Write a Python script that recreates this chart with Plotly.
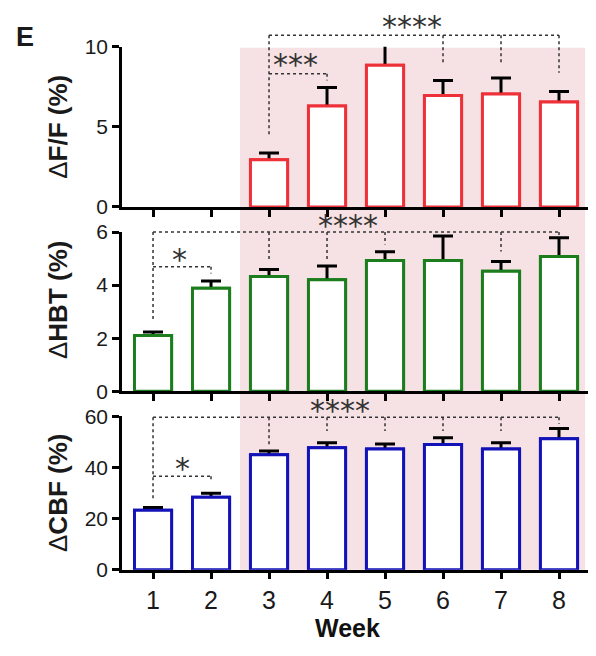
import plotly.graph_objects as go

# ---------------- data ----------------
weeks = [1, 2, 3, 4, 5, 6, 7, 8]
week_labels = ["1", "2", "3", "4", "5", "6", "7", "8"]

dff_mean = [None, None, 2.95, 6.3, 8.85, 6.95, 7.05, 6.55]
dff_err = [None, None, 0.42, 1.15, 1.5, 0.95, 1.0, 0.65]

hbt_mean = [2.1, 3.88, 4.32, 4.2, 4.93, 4.93, 4.52, 5.08]
hbt_err = [0.13, 0.27, 0.27, 0.52, 0.33, 0.92, 0.37, 0.7]

cbf_mean = [23.3, 28.3, 45.0, 47.7, 47.2, 49.0, 47.2, 51.2]
cbf_err = [1.0, 1.6, 1.4, 2.0, 2.0, 2.6, 2.5, 4.0]

y_titles = ["ΔF/F (%)", "ΔHBT (%)", "ΔCBF (%)"]
y_ticks = [[0, 5, 10], [0, 2, 4, 6], [0, 20, 40, 60]]
y_ranges = [[0, 10], [0, 6], [0, 60]]

# significance brackets: (x_start, x_end, level, {x: drop_end})
brackets = [
    [(3, 8, 10.72, {3: 4.52, 6: 8.9, 7: 8.9, 8: 8.37}),
     (3, 4, 8.31, {4: 7.9})],
    [(1, 8, 6.0, {1: 2.65, 3: 4.95, 4: 4.98, 5: 5.53, 7: 5.27, 8: 5.85}),
     (1, 2, 4.69, {2: 4.44})],
    [(1, 8, 59.6, {1: 27.2, 3: 49, 4: 54.3, 5: 54.3, 6: 54.3, 7: 54.3, 8: 57}),
     (1, 2, 36.6, {2: 34.3})],
]
# star labels: (text, x, y)
stars = [
    [("****", 5.47, 11.26), ("***", 3.45, 8.86)],
    [("****", 4.36, 6.25), ("*", 1.45, 4.95)],
    [("****", 4.22, 62.3), ("*", 1.5, 39.6)],
]

# ---------------- style ----------------
W, H = 596, 656
colors = ["#ee3138", "#1b7d1b", "#1212b8"]
pink = "#f6e1e4"
font = "Liberation Sans, Arial, sans-serif"
star_font = "DejaVu Sans, sans-serif"
x_left, x_right = 122, 588
panel_px = [(36, 202), (228, 393), (419, 578)]  # top, bottom in pixels
x_range = [0.465, 8.5]


def px_x(x):
    return x / W


def px_y(y):
    return 1 - y / H


x_dom = [px_x(x_left), px_x(x_right)]
y_doms = [[px_y(b), px_y(t)] for (t, b) in panel_px]

fig = go.Figure()
means = [dff_mean, hbt_mean, cbf_mean]
errs = [dff_err, hbt_err, cbf_err]

for i in range(3):
    ax = "" if i == 0 else str(i + 1)
    common = dict(
        x=weeks, y=means[i], width=0.64,
        marker=dict(color="white", line=dict(color=colors[i], width=3)),
        xaxis="x" + ax, yaxis="y" + ax, showlegend=False, cliponaxis=False,
        hoverinfo="skip",
    )
    fig.add_trace(go.Bar(
        error_y=dict(type="data", array=errs[i], visible=True, color="black",
                     thickness=3, width=10),
        **common))
    fig.add_trace(go.Bar(**common))


def to_paper(i, v):
    d0, d1 = y_doms[i]
    r0, r1 = y_ranges[i]
    return d0 + (v - r0) / (r1 - r0) * (d1 - d0)


shapes = []
# pink background spanning all panels
shapes.append(dict(type="rect", xref="x3", yref="paper", x0=2.5, x1=8.45,
                   y0=y_doms[2][0], y1=px_y(37), fillcolor=pink,
                   line=dict(width=0), layer="below"))

annotations = []
for i in range(3):
    ax = "" if i == 0 else str(i + 1)
    for (xs, xe, lvl, drops) in brackets[i]:
        shapes.append(dict(type="line", xref="x" + ax, yref="paper",
                           x0=xs, x1=xe, y0=to_paper(i, lvl), y1=to_paper(i, lvl),
                           line=dict(color="#333", width=1.5, dash="dot")))
        for xd, yd in drops.items():
            shapes.append(dict(type="line", xref="x" + ax, yref="paper",
                               x0=xd, x1=xd, y0=to_paper(i, lvl), y1=to_paper(i, yd),
                               line=dict(color="#333", width=1.5, dash="dot")))
    for (txt, sx, sy) in stars[i]:
        annotations.append(dict(text=txt, x=sx, y=to_paper(i, sy), xref="x" + ax, yref="paper",
                                showarrow=False, xanchor="center", yanchor="middle",
                                yshift=0,
                                font=dict(family=star_font, size=30, color="#333")))
    # y title
    t, b = panel_px[i]
    cy = (t + b) / 2 if i != 1 else (t + b) / 2 - 12
    annotations.append(dict(text=y_titles[i].replace("Δ", "<span style='font-weight:normal'>Δ</span><b>") + "</b>",
                            x=px_x(58), y=px_y(cy), xref="paper", yref="paper",
                            showarrow=False, textangle=-90, xanchor="center", yanchor="middle",
                            font=dict(family=font, size=26, color="#1a1a1a")))

annotations.append(dict(text="<b>E</b>", x=px_x(14), y=px_y(26), xref="paper", yref="paper",
                        showarrow=False, xanchor="left", yanchor="middle",
                        font=dict(family=font, size=27, color="#1a1a1a")))
annotations.append(dict(text="<b>Week</b>", x=px_x(347), y=px_y(638),
                        xref="paper", yref="paper", showarrow=False,
                        xanchor="center", yanchor="middle",
                        font=dict(family=font, size=25, color="#111")))

layout = dict(
    width=W, height=H, margin=dict(l=0, r=0, t=0, b=0),
    paper_bgcolor="white", plot_bgcolor="rgba(0,0,0,0)",
    barmode="overlay", shapes=shapes, annotations=annotations,
    font=dict(family=font, color="#111"),
)
for i in range(3):
    ax = "" if i == 0 else str(i + 1)
    layout["xaxis" + ax] = dict(
        domain=x_dom, range=x_range, anchor="y" + ax,
        tickmode="array", tickvals=weeks,
        ticktext=week_labels if i == 2 else [""] * 8,
        showticklabels=(i == 2),
        ticks="outside", ticklen=7, tickwidth=2.5, tickcolor="black",
        showline=True, linewidth=2.5, linecolor="black",
        showgrid=False, zeroline=False,
        tickfont=dict(family=font, size=25, color="#1a1a1a"),
    )
    layout["yaxis" + ax] = dict(
        domain=y_doms[i], range=y_ranges[i], anchor="x" + ax,
        tickmode="array", tickvals=y_ticks[i],
        ticks="outside", ticklen=7, tickwidth=2.5, tickcolor="black",
        showline=True, linewidth=2.5, linecolor="black",
        showgrid=False, zeroline=False,
        tickfont=dict(family=font, size=21, color="#1a1a1a"),
    )

fig.update_layout(**layout)
fig.write_html("out.html", config={"displayModeBar": False},
               post_script="document.body.style.margin='0';document.body.style.overflow='hidden';")
